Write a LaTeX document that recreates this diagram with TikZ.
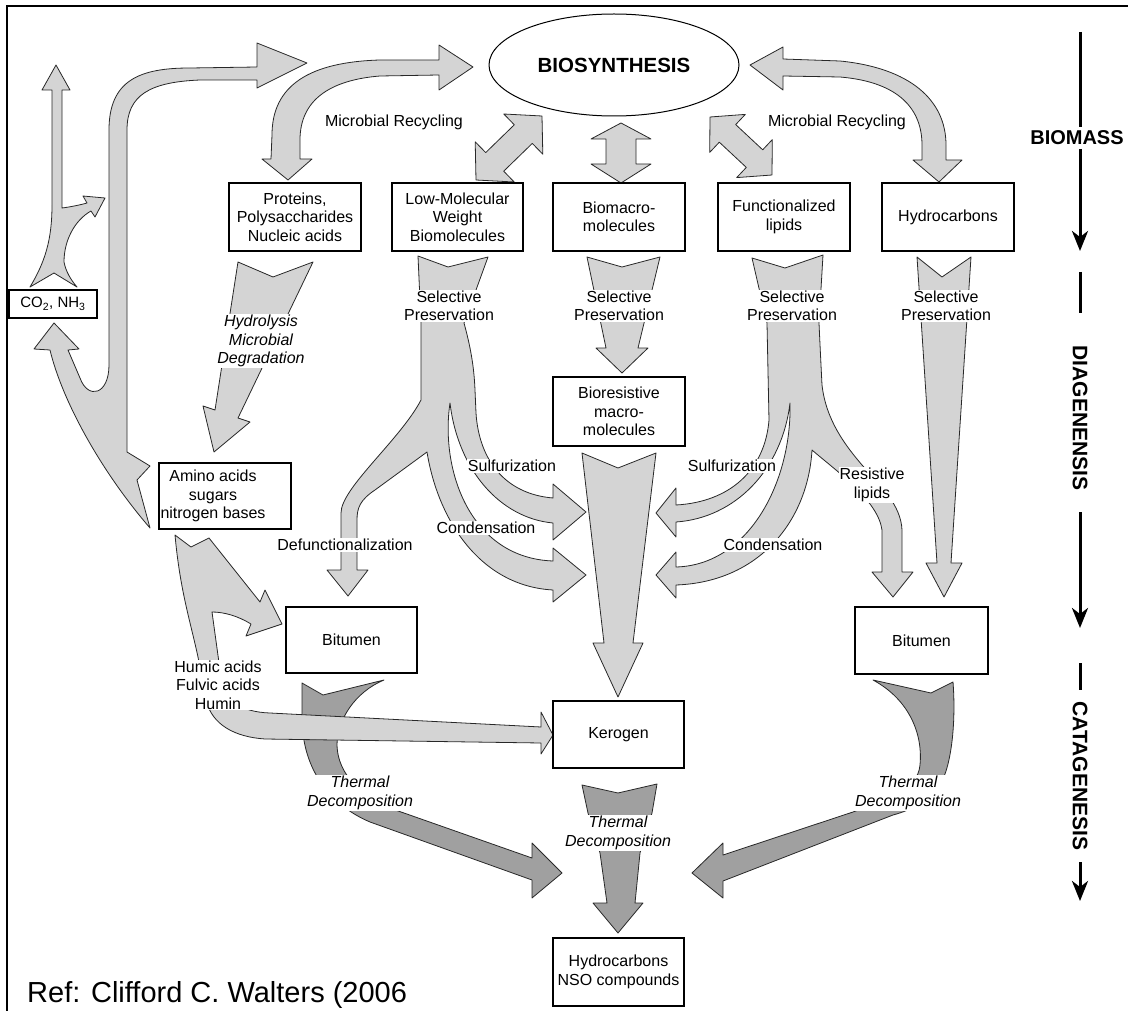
\documentclass[tikz,border=0pt]{standalone}
\usepackage{fontspec}
\setmainfont{Liberation Sans}
\usetikzlibrary{arrows.meta,shapes.geometric}
\definecolor{lightg}{RGB}{212,212,212}
\definecolor{darkg}{RGB}{160,160,160}
\definecolor{edgec}{RGB}{40,40,40}
\newcommand\mybf{\fontsize{16}{18.5}\selectfont}
\newcommand\myit{\fontsize{16}{18.5}\selectfont\itshape}
\newcommand\myside{\fontsize{21}{24}\selectfont\bfseries}
\begin{document}
\begin{tikzpicture}[x=1pt,y=-1pt,
  lg/.style={fill=lightg, draw=edgec, line width=0.8pt, line join=round},
  dg/.style={fill=darkg, draw=edgec, line width=0.8pt, line join=round},
  box/.style={draw=black, line width=1.3pt, fill=white, inner sep=0pt, align=center, font=\mybf},
  txt/.style={inner sep=0pt, align=center, font=\mybf},
  lab/.style={fill=white, inner sep=1pt, align=center, font=\mybf},
  ilab/.style={fill=white, inner sep=1pt, align=center, font=\myit},
  side/.style={font=\myside, rotate=-90, inner sep=0pt},
  tl/.style={line width=3pt},
  tlarrow/.style={line width=3pt, -{Stealth[length=20pt,width=16pt,inset=6pt]}}
]
\useasboundingbox (0,0) rectangle (1128,1011);
% frame
\draw[line width=2.5pt] (7,1011) -- (7,6) -- (1128,6);

% ---------- light arrows ----------
% big left arrow to biosynthesis with branch to CO2
\draw[lg] (150,466) -- (127,452) -- (127,130) .. controls (127,95) and (150,82) .. (200,80) -- (257,80) -- (257,88) -- (307,63) -- (257,43) -- (257,67) -- (190,68) .. controls (140,68) and (109,80) .. (109,130) -- (109,365) .. controls (109,395) and (88,400) .. (80,378) -- (68,350) -- (79,349) -- (54,323) -- (34,349) -- (50,350) .. controls (62,400) and (100,470) .. (150,528) -- (137,480) -- cycle;
% CO2 up arrow with branch
\draw[lg] (30,287) .. controls (45,262) and (52,240) .. (52,205) -- (52,90) -- (42,90) -- (56,65) -- (70,90) -- (62,90) -- (62,208) .. controls (70,207) and (80,205) .. (87,203) -- (83,196) -- (105,198) -- (95,217) -- (91,211) .. controls (75,220) and (64,240) .. (64,262) .. controls (66,272) and (71,280) .. (77,287) -- (54,273) -- cycle;
% microbial recycling left
\draw[lg] (288,180) -- (312,159) -- (300,159) -- (300,140) .. controls (300,100) and (330,80) .. (380,76) -- (439,75) -- (439,90) -- (473,67) -- (439,45) -- (439,60) -- (380,60) .. controls (310,62) and (272,85) .. (272,135) -- (271,159) -- (262,159) -- cycle;
% microbial recycling right
\draw[lg] (750,65) -- (783,47) -- (783,59) -- (840,61) .. controls (910,68) and (946,100) .. (946,145) -- (946,160) -- (962,160) -- (939,182) -- (913,160) -- (922,160) -- (922,145) .. controls (922,110) and (900,82) .. (840,77) -- (783,76) -- (783,90) -- cycle;
% diagonal double arrows
\draw[lg] (476,180) -- (514.2,182) -- (503.7,171.2) -- (532.3,143.4) -- (542.8,154.2) -- (542,116) -- (503.8,114) -- (514.3,124.8) -- (485.7,152.6) -- (475.2,141.8) -- cycle;
\draw[lg] (710,117) -- (745.3,114.4) -- (735.7,124.6) -- (762.7,149.8) -- (772.3,139.6) -- (772,175) -- (736.7,177.6) -- (746.3,167.4) -- (719.3,142.2) -- (709.7,152.4) -- cycle;
% vertical double arrow
\draw[lg] (621,123) -- (651,139) -- (636,139) -- (636,164) -- (651,164) -- (621,183) -- (591,164) -- (606,164) -- (606,139) -- (591,139) -- cycle;
% hydrolysis
\draw[lg] (238,262) -- (273,277) -- (313,262) -- (238,418) -- (250,422) -- (214,452) -- (203,406) -- (215,410) -- cycle;
% biomacro -> bioresistive
\draw[lg] (587,257) -- (622,267) -- (660,257) -- (638,348) -- (648,348) -- (622,373) -- (596,348) -- (606,348) -- cycle;
% hydrocarbons stream
\draw[lg] (917,257) -- (942,277) -- (971,257) -- (951,563) -- (962,563) -- (944,597) -- (926,563) -- (937,563) -- cycle;
% central bioresistive -> kerogen
\draw[lg] (582,453) -- (618,468) -- (656,453) -- (633,643) -- (643,643) -- (618,697) -- (593,643) -- (604,643) -- cycle;
% LMW tree
\draw[lg] (418,256) -- (448,267) -- (488,257) -- (464,323) .. controls (470,345) and (474,365) .. (475,390) -- (476,413) .. controls (479,460) and (505,494) .. (553,498) -- (553,484) -- (586,512) -- (553,540) -- (553,523) .. controls (500,518) and (458,470) .. (450,403) .. controls (440,470) and (470,558) .. (553,561) -- (553,548) -- (586,575) -- (553,602) -- (553,590) .. controls (480,586) and (438,520) .. (427,452) -- (375,490) .. controls (360,500) and (357,508) .. (357,520) -- (357,570) -- (368,570) -- (348,596) -- (327,570) -- (341,570) -- (341,513) .. controls (341,488) and (400,440) .. (421,400) -- (421,323) -- cycle;
% functionalized lipids tree
\draw[lg] (752,258) -- (785,268) -- (823,255) -- (819,323) .. controls (820,345) and (821,365) .. (822,385) .. controls (826,420) and (845,445) .. (862,465) .. controls (880,485) and (901,505) .. (902,530) -- (902,572) -- (913,572) -- (893,597) -- (872,572) -- (882,572) -- (882,530) .. controls (878,500) and (835,470) .. (812,450) .. controls (808,520) and (760,582) .. (676,585) -- (676,598) -- (656,575) -- (676,552) -- (676,567) .. controls (750,565) and (792,480) .. (790,403) .. controls (782,470) and (735,518) .. (676,522) -- (676,537) -- (656,513) -- (676,488) -- (676,505) .. controls (730,502) and (765,470) .. (769,420) -- (767,323) -- cycle;

% ---------- dark arrows ----------
\draw[dg] (302,683) -- (323,695) -- (384,680) .. controls (355,692) and (337,720) .. (337,745) .. controls (338,780) and (370,802) .. (404,813) -- (532,858) -- (532,843) -- (562,873) -- (532,898) -- (532,880) -- (370,822) .. controls (330,805) and (303,770) .. (302,720) -- cycle;
\draw[dg] (873,680) -- (931,693) -- (953,682) .. controls (956,720) and (952,765) .. (940,785) .. controls (930,800) and (912,810) .. (893,815) -- (723,881) -- (723,898) -- (692,873) -- (723,843) -- (723,855) -- (853,812) .. controls (885,800) and (918,790) .. (920,765) .. controls (923,735) and (910,700) .. (873,680) -- cycle;
\draw[dg] (582,785) -- (618,793) -- (657,784) -- (652,813) -- (640,853) -- (635,903) -- (643,903) -- (618,933) -- (593,903) -- (607,903) -- (600,853) -- (588,813) -- cycle;

% amino acids -> bitumen / kerogen (on top of dark arrow)
\draw[lg] (175,535) -- (191,547) -- (209,538) -- (260,602) -- (265,590) -- (282,624) -- (246,636) -- (251,624) .. controls (238,616) and (224,612) .. (212,612) -- (220,670) .. controls (223,700) and (240,712) .. (270,713) -- (541,727) -- (541,712) -- (553,735) -- (541,754) -- (541,743) -- (265,739) .. controls (235,737) and (212,725) .. (206,700) -- (198,657) .. controls (190,620) and (180,590) .. (175,535) -- cycle;

% ---------- boxes ----------
\node[draw, ellipse, line width=1pt, fill=white, minimum width=250pt, minimum height=102pt, font=\fontsize{20.5}{24}\selectfont\bfseries] (bios) at (614,65) {BIOSYNTHESIS};
\node[box, minimum width=132pt, minimum height=68pt] (prot) at (295,217) {Proteins,\\Polysaccharides\\Nucleic acids};
\node[box, minimum width=131pt, minimum height=68pt] (lmw) at (457.5,217) {Low-Molecular\\Weight\\Biomolecules};
\node[box, minimum width=132pt, minimum height=68pt] (bmac) at (619,217) {Biomacro-\\molecules};
\node[box, minimum width=132pt, minimum height=68pt] (func) at (784,217) {Functionalized\\lipids};
\node[box, minimum width=132pt, minimum height=68pt] (hydro) at (948,217) {Hydrocarbons};
\node[box, minimum width=88pt, minimum height=28pt, font=\fontsize{15}{17}\selectfont] (co2) at (53,304) {CO\textsubscript{2}, NH\textsubscript{3}};
\node[box, minimum width=132pt, minimum height=66pt] (amino) at (225,496) {};
\node[txt] (aminot) at (213,496) {Amino acids\\sugars\\nitrogen bases};
\node[box, minimum width=132pt, minimum height=69pt] (biores) at (619,411.5) {Bioresistive\\macro-\\molecules};
\node[box, minimum width=131pt, minimum height=66pt] (bitl) at (351.5,640) {Bitumen};
\node[box, minimum width=133pt, minimum height=67pt] (bitr) at (921.5,640.5) {Bitumen};
\node[box, minimum width=131pt, minimum height=67pt] (kero) at (618.5,734.5) {Kerogen};
\node[box, minimum width=131pt, minimum height=68pt] (nso) at (618.5,972) {Hydrocarbons\\NSO compounds};

% ---------- labels ----------
\node[lab] (mrl) at (394,122) {Microbial Recycling};
\node[lab] (mrr) at (837,122) {Microbial Recycling};
\node[lab] (sp1) at (449,306) {Selective\\Preservation};
\node[lab] (sp2) at (619,306) {Selective\\Preservation};
\node[lab] (sp3) at (792,306) {Selective\\Preservation};
\node[lab] (sp4) at (946,306) {Selective\\Preservation};
\node[ilab] (hyd) at (261,341) {Hydrolysis\\Microbial\\Degradation};
\node[lab] (sull) at (512,466) {Sulfurization};
\node[lab] (conl) at (486,528) {Condensation};
\node[lab] (defu) at (345,545) {Defunctionalization};
\node[lab] (sulr) at (732,466) {Sulfurization};
\node[lab] (conr) at (773,545) {Condensation};
\node[lab] (resl) at (872,485) {Resistive\\lipids};
\node[lab] (humic) at (218,685) {Humic acids\\Fulvic acids\\Humin};
\node[ilab] (td1) at (360,793) {Thermal\\Decomposition};
\node[ilab] (td2) at (618,833) {Thermal\\Decomposition};
\node[ilab] (td3) at (908,793) {Thermal\\Decomposition};
\node[anchor=west, inner sep=0pt, font=\fontsize{29}{32}\selectfont] (ref) at (27,995) {Ref: Clifford C. Walters (2006};

% ---------- time line ----------
\coordinate (t1) at (1080,32);
\node[font=\fontsize{20}{23}\selectfont\bfseries, inner sep=0pt] (bm) at (1077,138) {BIOMASS};
\coordinate (t2) at (1080,127);
\coordinate (t3) at (1080,149);
\coordinate (t4) at (1080,251);
\coordinate (d1) at (1080,272);
\coordinate (d2) at (1080,313);
\node[side] (dia) at (1080,418) {DIAGENENSIS};
\coordinate (d3) at (1080,512);
\coordinate (d4) at (1080,628);
\coordinate (c1) at (1080,663);
\coordinate (c2) at (1080,690);
\node[side] (cat) at (1080,776) {CATAGENESIS};
\coordinate (c3) at (1080,862);
\coordinate (c4) at (1080,901);
\draw[tl] (t1) -- (t2);
\draw[tlarrow] (t3) -- (t4);
\draw[tl] (d1) -- (d2);
\draw[tlarrow] (d3) -- (d4);
\draw[tl] (c1) -- (c2);
\draw[tlarrow] (c3) -- (c4);
\end{tikzpicture}
\end{document}
